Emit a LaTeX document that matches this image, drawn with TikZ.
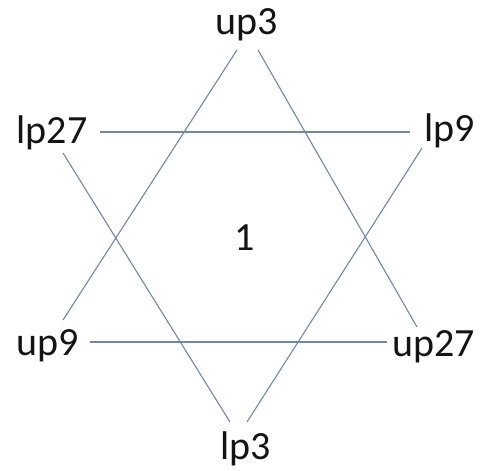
\documentclass[tikz,border=0pt]{standalone}
\usepackage{fontspec}
\setmainfont{Carlito}
\begin{document}
\begin{tikzpicture}[x=1pt,y=-1pt,
  lbl/.style={inner sep=0pt, text={rgb,255:red,20;green,20;blue,20}, font=\fontsize{40}{42}\selectfont},
  edge/.style={draw={rgb,255:red,115;green,135;blue,165}, line width=1.1pt}]
\useasboundingbox (0,0) rectangle (485,471);
\node[lbl] (up3) at (247,25) {up3};
\node[lbl] (lp27) at (52,133) {lp27};
\node[lbl] (lp9) at (450,131) {lp9};
\node[lbl] (one) at (245,238) {1};
\node[lbl] (up9) at (48,346) {up9};
\node[lbl] (up27) at (434,347) {up27};
\node[lbl] (lp3) at (246,449) {lp3};
\draw[edge] ([shift={(-10,25)}]up3.center) -- ([shift={(15,-26)}]up9.center);
\draw[edge] ([shift={(11,25)}]up3.center) -- ([shift={(-17,-20)}]up27.center);
\draw[edge] ([shift={(48,-1)}]lp27.center) -- ([shift={(-40,1)}]lp9.center);
\draw[edge] ([shift={(11,20)}]lp27.center) -- ([shift={(-16,-27)}]lp3.center);
\draw[edge] ([shift={(-28,17)}]lp9.center) -- ([shift={(1,-27)}]lp3.center);
\draw[edge] ([shift={(42,-4)}]up9.center) -- ([shift={(-47,-5)}]up27.center);
\end{tikzpicture}
\end{document}
